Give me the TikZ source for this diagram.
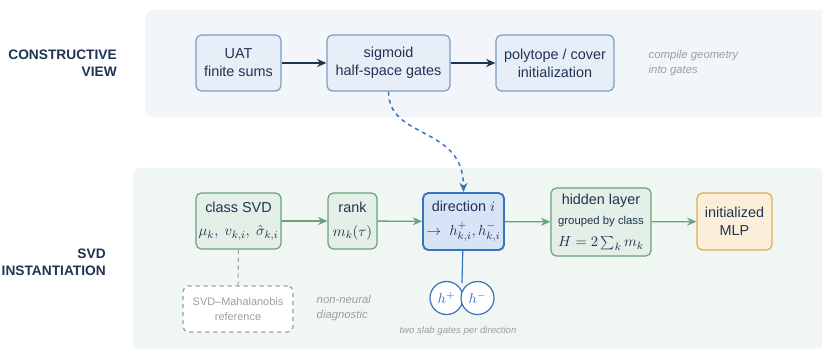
\documentclass[tikz,border=0pt]{standalone}
\usepackage[no-math]{fontspec}
\setmainfont{Liberation Sans}
\usetikzlibrary{arrows.meta}
\definecolor{navy}{HTML}{1F3354}
\definecolor{topfill}{HTML}{F2F6FB}
\definecolor{botfill}{HTML}{F0F6F2}
\definecolor{bluebox}{HTML}{E7EEF7}
\definecolor{blueedge}{HTML}{7D9CC3}
\definecolor{greenbox}{HTML}{E3EFE7}
\definecolor{greenedge}{HTML}{67A37B}
\definecolor{dirfill}{HTML}{D6E4F6}
\definecolor{diredge}{HTML}{3873BD}
\definecolor{mlpfill}{HTML}{FBEFDA}
\definecolor{mlpedge}{HTML}{DCAA58}
\definecolor{note}{HTML}{9A9FA5}
\begin{document}
\begin{tikzpicture}[x=0.75pt, y=-0.75pt, >={Stealth[length=7pt,width=6pt]},
    font=\fontsize{10.8}{13.5}\selectfont, text=navy,
    box/.style={draw, rounded corners=4pt, align=center, inner sep=0pt, line width=0.9pt},
    cbox/.style={box, draw=blueedge, fill=bluebox, minimum height=42pt},
    sbox/.style={box, draw=greenedge, fill=greenbox, minimum height=42pt},
    lane/.style={font=\fontsize{10.3}{13}\selectfont\bfseries, align=right, anchor=east, inner sep=0pt},
    remark/.style={font=\fontsize{8.5}{11}\selectfont\itshape, text=note, align=left, anchor=west},
    gate/.style={circle, draw=diredge, fill=white, line width=0.9pt, minimum size=24.75pt, inner sep=0pt, text=diredge}]
    \useasboundingbox (0,0) rectangle (822,350);
    \fill[topfill, rounded corners=6pt] (145,10) rectangle (835,117);
    \fill[botfill, rounded corners=6pt] (133,168) rectangle (824,349);
    \node[lane] (cv) at (117,63.5) {CONSTRUCTIVE\\VIEW};
    \node[lane] (si) at (106,262.5) {SVD\\INSTANTIATION};
    \node[cbox, minimum width=63.75pt] (uat) at (238.5,63) {UAT\\finite sums};
    \node[cbox, minimum width=92.25pt] (sig) at (388.5,63) {sigmoid\\half-space gates};
    \node[cbox, minimum width=88.5pt] (poly) at (555,63) {polytope / cover\\initialization};
    \node[remark] (comp) at (644,63) {compile geometry\\into gates};
    \draw[->, navy, line width=1pt] (uat) -- (sig);
    \draw[->, navy, line width=1pt] (sig) -- (poly);
    \node[sbox, minimum width=63.75pt] (csvd) at (238.5,221)
        {class SVD\\[4pt]$\mu_k,\ v_{k,i},\ \hat\sigma_{k,i}$};
    \node[sbox, minimum width=36.75pt] (rank) at (352.5,221) {rank\\[4pt]$m_k(\tau)$};
    \node[box, draw=diredge, fill=dirfill, line width=1.4pt, minimum width=60.75pt, minimum height=42.75pt]
        (dir) at (463.5,221.5) {direction $i$\\[4pt]$\to\ h^+_{k,i}, h^-_{k,i}$};
    \node[sbox, minimum width=75pt, minimum height=51pt] (hid) at (601,222)
        {hidden layer\\[2pt]{\fontsize{8.5}{11}\selectfont grouped by class}\\[3pt]$H=2\sum_k m_k$};
    \node[box, draw=mlpedge, fill=mlpfill, minimum width=56.25pt, minimum height=42.75pt]
        (mlp) at (734.5,221.5) {initialized\\MLP};
    \node[box, draw=note, dashed, fill=white, minimum width=82.5pt, minimum height=34.5pt,
        text=note, font=\fontsize{8.2}{11}\selectfont] (maha) at (238,309) {SVD--Mahalanobis\\reference};
    \node[remark] (nn) at (312,308) {non-neural\\diagnostic};
    \draw[note, dashed, line width=0.8pt] (csvd) -- (maha);
    \draw[->, greenedge, line width=1pt] (csvd) -- (rank);
    \draw[->, greenedge, line width=1pt] (rank) -- (dir);
    \draw[->, greenedge, line width=1pt] (dir) -- (hid);
    \draw[->, greenedge, line width=1pt] (hid) -- (mlp);
    \node[gate] (hp) at (446.5,298) {$h^+$};
    \node[gate] (hm) at (477.5,298) {$h^-$};
    \coordinate (meet) at (462,283);
    \draw[diredge, line width=0.9pt] (dir) -- (meet);
    \node[remark, anchor=center, font=\fontsize{7.2}{9}\selectfont\itshape] (slab) at (458,331)
        {two slab gates per direction};
    \draw[->, diredge, dashed, line width=1.1pt] (sig.south) .. controls (388.5,140) and (463.5,125) .. (dir.north);
\end{tikzpicture}
\end{document}
